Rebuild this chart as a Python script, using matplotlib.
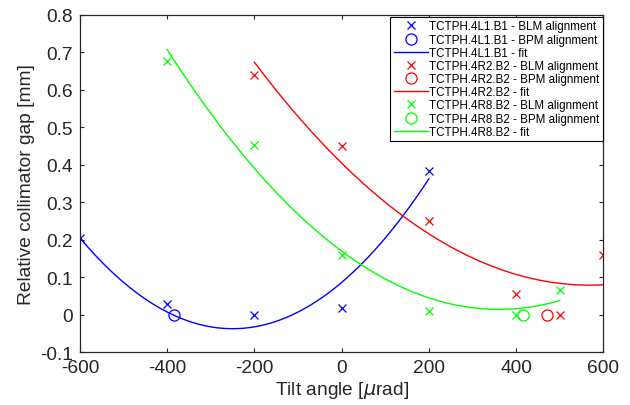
import numpy as np
import matplotlib
matplotlib.use("Agg")
import matplotlib.pyplot as plt

plt.rcParams['font.family'] = ['Liberation Sans', 'DejaVu Sans']
plt.rcParams['mathtext.fontset'] = 'dejavusans'

# BLM alignment points
blue_blm_x = [-600, -400, -200, 0, 200]
blue_blm_y = [0.204, 0.028, 0.0, 0.018, 0.383]
red_blm_x = [-200, 0, 200, 400, 500, 600]
red_blm_y = [0.640, 0.450, 0.251, 0.056, 0.0, 0.160]
green_blm_x = [-400, -200, 0, 200, 400, 500]
green_blm_y = [0.676, 0.454, 0.160, 0.011, 0.0, 0.065]

# BPM alignment points
blue_bpm_x = [-385]
blue_bpm_y = [0.0]
red_bpm_x = [471]
red_bpm_y = [0.0]
green_bpm_x = [415]
green_bpm_y = [0.0]

# quadratic fit coefficients (a, b, c) and fit ranges
blue_fit = [1.975e-6, 9.875e-4, 0.0864]
blue_range = [-600, 200]
red_fit = [1.006e-6, -1.1446e-3, 0.4047]
red_range = [-200, 600]
green_fit = [1.20e-6, -8.64e-4, 0.170]
green_range = [-400, 500]

labels = ['TCTPH.4L1.B1', 'TCTPH.4R2.B2', 'TCTPH.4R8.B2']
colors = ['#0000ff', '#ff0000', '#00ff00']

xticks = [-600, -400, -200, 0, 200, 400, 600]
yticks = [-0.1, 0, 0.1, 0.2, 0.3, 0.4, 0.5, 0.6, 0.7, 0.8]
ytick_labels = ['-0.1', '0', '0.1', '0.2', '0.3', '0.4', '0.5', '0.6', '0.7', '0.8']

W, H = 630, 406
fig = plt.figure(figsize=(W / 100, H / 100), dpi=100)
ax = fig.add_axes([80 / W, 1 - 353.3 / H, (603.3 - 80) / W, (353.3 - 16) / H])

groups = [
    (blue_blm_x, blue_blm_y, blue_bpm_x, blue_bpm_y, blue_fit, blue_range),
    (red_blm_x, red_blm_y, red_bpm_x, red_bpm_y, red_fit, red_range),
    (green_blm_x, green_blm_y, green_bpm_x, green_bpm_y, green_fit, green_range),
]
for (bx, by, px, py, fit, rng), lab, col in zip(groups, labels, colors):
    ax.plot(bx, by, linestyle='none', marker='x', color=col, markersize=6,
            markeredgewidth=0.9, label=f'{lab} - BLM alignment')
    ax.plot(px, py, linestyle='none', marker='o', markerfacecolor='none',
            markeredgecolor=col, markersize=8, markeredgewidth=0.9,
            label=f'{lab} - BPM alignment')
    xf = np.linspace(rng[0], rng[1], 200)
    ax.plot(xf, np.polyval(fit, xf), color=col, linewidth=1.0, label=f'{lab} - fit')

ax.set_xlim(-600, 600)
ax.set_ylim(-0.1, 0.8)
ax.set_xticks(xticks)
ax.set_xticklabels([str(t) for t in xticks])
ax.set_yticks(yticks)
ax.set_yticklabels(ytick_labels)

tc = '#262626'
for s in ax.spines.values():
    s.set_color(tc)
    s.set_linewidth(0.9)
ax.tick_params(direction='in', length=3, width=0.8, top=True, right=True,
               labelsize=13.8, colors=tc, labelcolor=tc, pad=5)

ax.set_xlabel(r'Tilt angle [$\mu$rad]', fontsize=13.8, color=tc, labelpad=2)
ax.set_ylabel('Relative collimator gap [mm]', fontsize=13.8, color=tc, labelpad=4)

leg = ax.legend(loc='upper right', bbox_to_anchor=(603 / W, 1 - 18 / H),
                bbox_transform=fig.transFigure, borderaxespad=0,
                fontsize=8.4, frameon=True, fancybox=False, framealpha=1,
                edgecolor='black', handlelength=2.9, handletextpad=0.15,
                labelspacing=0.1, borderpad=0.3, numpoints=1)
leg.get_frame().set_linewidth(0.8)
for t in leg.get_texts():
    t.set_color('black')

fig.savefig('out.png', dpi=100)
